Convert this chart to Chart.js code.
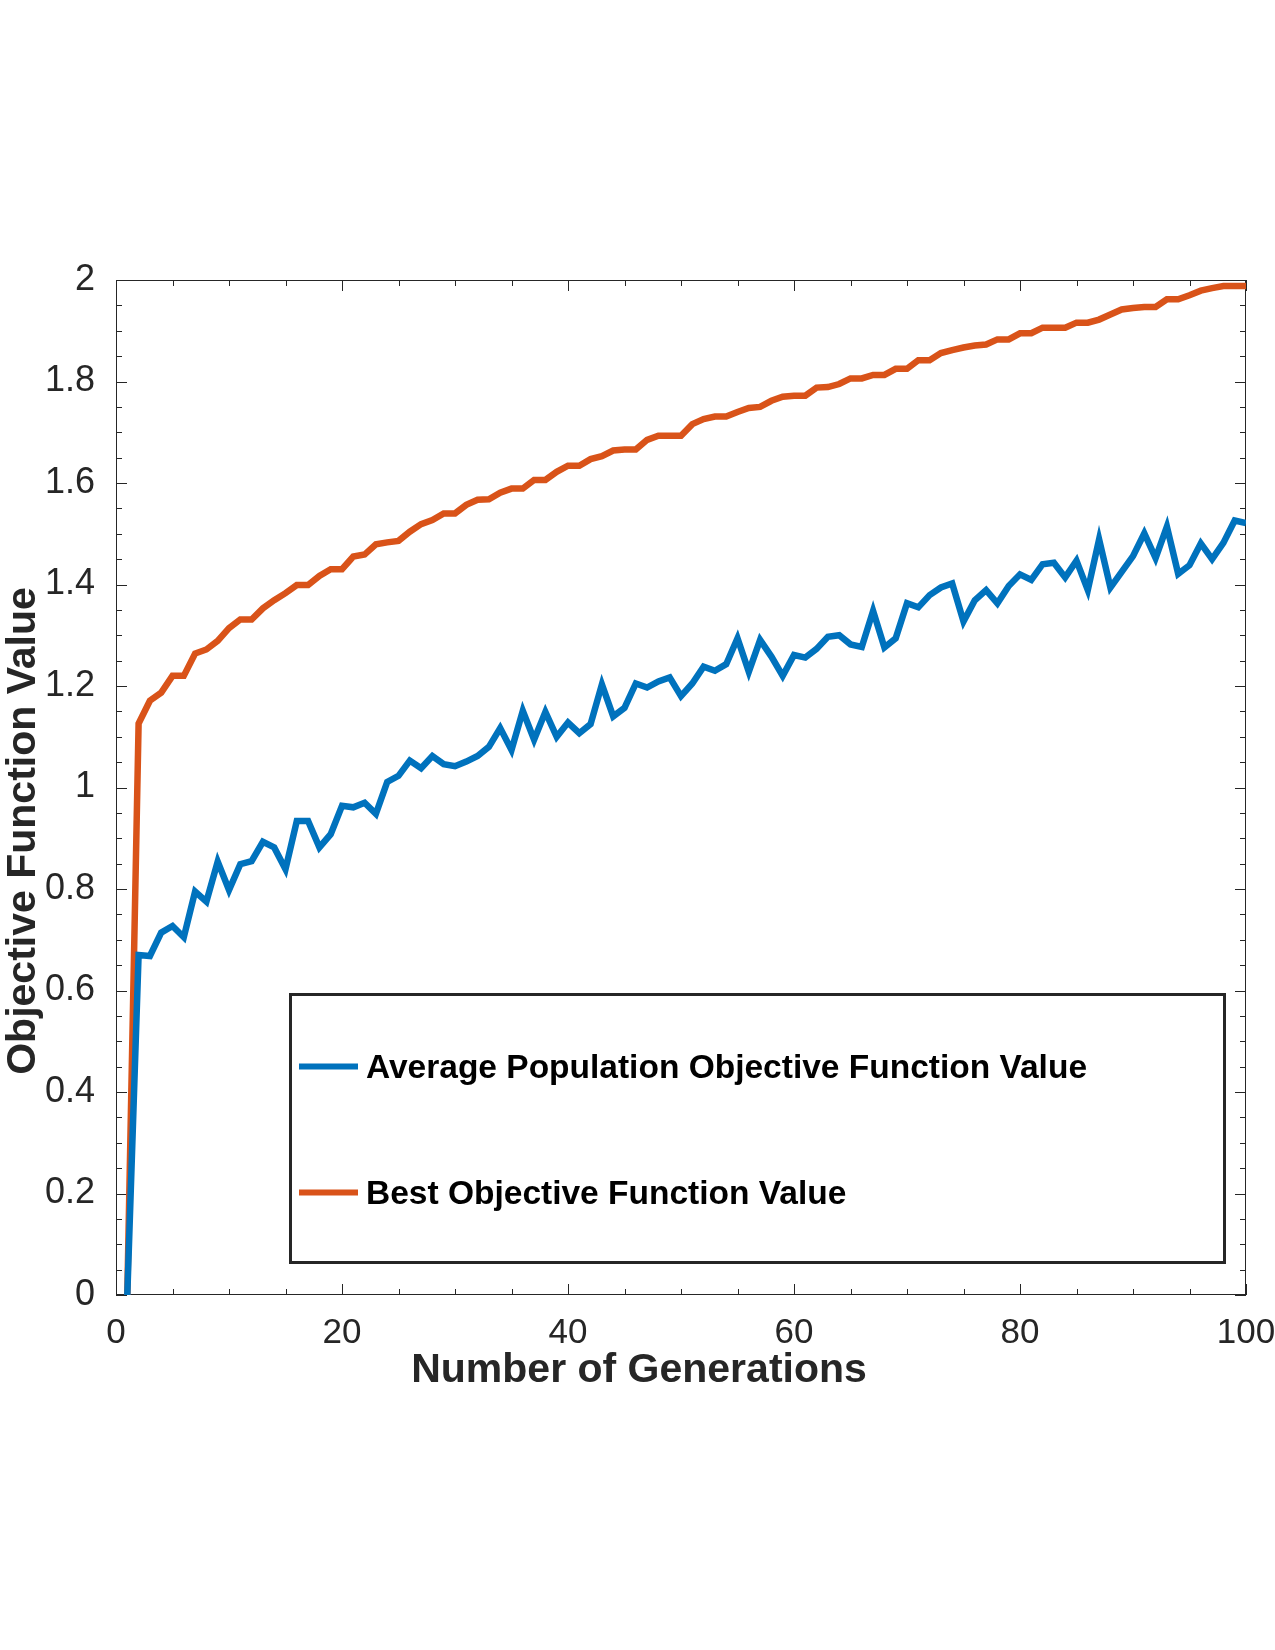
<!DOCTYPE html>
<html>
<head>
<meta charset="utf-8">
<script src="https://cdn.jsdelivr.net/npm/chart.js@4.4.1/dist/chart.umd.min.js"></script>
<style>
  html, body { margin: 0; padding: 0; background: #ffffff; }
  #wrap { position: relative; width: 1275px; height: 1650px; }
</style>
</head>
<body>
<div id="wrap"><canvas id="chart" width="1275" height="1650"></canvas></div>
<script>
// ---------------- data ----------------
const generations = [
  1, 2, 3, 4, 5, 6, 7, 8, 9, 10, 11, 12, 13, 14, 15, 16, 17, 18, 19, 20,
  21, 22, 23, 24, 25, 26, 27, 28, 29, 30, 31, 32, 33, 34, 35, 36, 37, 38, 39, 40,
  41, 42, 43, 44, 45, 46, 47, 48, 49, 50, 51, 52, 53, 54, 55, 56, 57, 58, 59, 60,
  61, 62, 63, 64, 65, 66, 67, 68, 69, 70, 71, 72, 73, 74, 75, 76, 77, 78, 79, 80,
  81, 82, 83, 84, 85, 86, 87, 88, 89, 90, 91, 92, 93, 94, 95, 96, 97, 98, 99, 100
];

const avgValues = [
  0, 0.670, 0.668, 0.714, 0.727, 0.705, 0.795, 0.775, 0.854, 0.798,
  0.849, 0.855, 0.893, 0.882, 0.839, 0.934, 0.934, 0.882, 0.908, 0.964,
  0.961, 0.970, 0.948, 1.011, 1.023, 1.053, 1.038, 1.062, 1.046, 1.042,
  1.051, 1.062, 1.080, 1.117, 1.074, 1.151, 1.094, 1.149, 1.100, 1.128,
  1.107, 1.125, 1.203, 1.140, 1.157, 1.205, 1.197, 1.209, 1.217, 1.180,
  1.205, 1.238, 1.230, 1.243, 1.294, 1.228, 1.291, 1.258, 1.220, 1.261,
  1.256, 1.273, 1.297, 1.300, 1.282, 1.277, 1.348, 1.276, 1.294, 1.363,
  1.355, 1.379, 1.394, 1.402, 1.327, 1.369, 1.389, 1.363, 1.397, 1.420,
  1.409, 1.440, 1.443, 1.414, 1.447, 1.389, 1.489, 1.394, 1.425, 1.456,
  1.501, 1.452, 1.514, 1.421, 1.438, 1.481, 1.450, 1.482, 1.526, 1.521
];

const bestValues = [
  0, 1.126, 1.171, 1.187, 1.220, 1.220, 1.264, 1.272, 1.289, 1.314,
  1.331, 1.331, 1.353, 1.369, 1.383, 1.399, 1.399, 1.417, 1.430, 1.430,
  1.455, 1.459, 1.479, 1.483, 1.486, 1.504, 1.519, 1.527, 1.540, 1.540,
  1.557, 1.567, 1.568, 1.581, 1.589, 1.589, 1.606, 1.606, 1.622, 1.634,
  1.634, 1.647, 1.653, 1.664, 1.666, 1.666, 1.685, 1.693, 1.693, 1.693,
  1.716, 1.726, 1.731, 1.731, 1.740, 1.748, 1.750, 1.762, 1.770, 1.772,
  1.772, 1.788, 1.789, 1.795, 1.806, 1.806, 1.813, 1.813, 1.825, 1.825,
  1.842, 1.842, 1.856, 1.862, 1.867, 1.871, 1.873, 1.883, 1.883, 1.895,
  1.895, 1.906, 1.906, 1.906, 1.916, 1.916, 1.922, 1.932, 1.942, 1.945,
  1.947, 1.947, 1.962, 1.962, 1.970, 1.979, 1.984, 1.988, 1.988, 1.988
];

const seriesNames = ['Average Population Objective Function Value', 'Best Objective Function Value'];
const xTickLabels = ['0', '20', '40', '60', '80', '100'];
const yTickLabels = ['0', '0.2', '0.4', '0.6', '0.8', '1', '1.2', '1.4', '1.6', '1.8', '2'];
const xAxisTitle = 'Number of Generations';
const yAxisTitle = 'Objective Function Value';

// ---------------- styles ----------------
const FONT = '"Liberation Sans", Arial, Helvetica, sans-serif';
const AXIS_COLOR = '#262626';
const BLUE = '#0072BD';
const ORANGE = '#D95319';

function toPoints(xs, ys) { return xs.map((x, i) => ({ x: x, y: ys[i] })); }

// inward ticks + full box
const framePlugin = {
  id: 'frame',
  beforeDatasetsDraw(chart) {
    const { ctx, chartArea: a, scales } = chart;
    const xs = scales.x, ys = scales.y;
    ctx.save();
    ctx.strokeStyle = AXIS_COLOR;
    ctx.lineWidth = 1;
    ctx.beginPath();
    for (let i = 0; i <= 20; i++) {
      const v = i * 5;
      const px = Math.round(xs.getPixelForValue(v)) + 0.5;
      const len = (i % 4 === 0) ? 11 : 6;
      ctx.moveTo(px, a.bottom); ctx.lineTo(px, a.bottom - len);
      ctx.moveTo(px, a.top); ctx.lineTo(px, a.top + len);
    }
    for (let i = 0; i <= 40; i++) {
      const v = i * 0.05;
      const py = Math.round(ys.getPixelForValue(v)) + 0.5;
      const len = (i % 4 === 0) ? 11 : 6;
      ctx.moveTo(a.left, py); ctx.lineTo(a.left + len, py);
      ctx.moveTo(a.right, py); ctx.lineTo(a.right - len, py);
    }
    ctx.stroke();
    ctx.strokeRect(a.left + 0.5, a.top + 0.5, a.right - a.left - 1, a.bottom - a.top - 1);
    ctx.restore();
  }
};

// boxed legend inside the axes
const legendPlugin = {
  id: 'boxLegend',
  afterDatasetsDraw(chart) {
    const { ctx } = chart;
    const box = { left: 290.5, top: 994.5, right: 1224.5, bottom: 1262.5 };
    const rows = [1066.5, 1192.5];
    const size = 33.5;
    ctx.save();
    ctx.fillStyle = '#ffffff';
    ctx.fillRect(box.left, box.top, box.right - box.left, box.bottom - box.top);
    ctx.strokeStyle = AXIS_COLOR;
    ctx.lineWidth = 3;
    ctx.strokeRect(box.left, box.top, box.right - box.left, box.bottom - box.top);
    chart.data.datasets.forEach((ds, i) => {
      const yy = rows[i];
      ctx.strokeStyle = ds.borderColor;
      ctx.lineWidth = 6;
      ctx.beginPath();
      ctx.moveTo(299, yy); ctx.lineTo(358, yy);
      ctx.stroke();
      ctx.fillStyle = '#000000';
      ctx.font = 'bold ' + size + 'px ' + FONT;
      ctx.textAlign = 'left';
      ctx.textBaseline = 'alphabetic';
      ctx.fillText(ds.label, 366, yy + 0.358 * size);
    });
    ctx.restore();
  }
};

// axis titles
const titlePlugin = {
  id: 'axisTitles',
  afterDraw(chart) {
    const { ctx } = chart;
    ctx.save();
    ctx.fillStyle = AXIS_COLOR;
    ctx.font = 'bold 41px ' + FONT;
    ctx.textAlign = 'center';
    ctx.textBaseline = 'alphabetic';
    ctx.fillText(xAxisTitle, 639, 1382);
    ctx.translate(35, 831);
    ctx.rotate(-Math.PI / 2);
    ctx.fillText(yAxisTitle, 0, 0);
    ctx.restore();
  }
};

new Chart(document.getElementById('chart'), {
  type: 'line',
  data: {
    datasets: [
      {
        label: seriesNames[0],
        data: toPoints(generations, avgValues),
        borderColor: BLUE,
        backgroundColor: BLUE,
        borderWidth: 6.5,
        pointRadius: 0,
        tension: 0,
        borderJoinStyle: 'miter',
        clip: 0
      },
      {
        label: seriesNames[1],
        data: toPoints(generations, bestValues),
        borderColor: ORANGE,
        backgroundColor: ORANGE,
        borderWidth: 6.5,
        pointRadius: 0,
        tension: 0,
        borderJoinStyle: 'miter',
        clip: 0
      }
    ]
  },
  options: {
    responsive: false,
    animation: false,
    devicePixelRatio: 1,
    layout: { padding: { left: 0, top: 280, right: 29, bottom: 295 } },
    plugins: {
      legend: { display: false },
      tooltip: { enabled: false },
      title: { display: false }
    },
    scales: {
      x: {
        type: 'linear',
        min: 0,
        max: 100,
        grid: { display: true, drawOnChartArea: false, drawTicks: false },
        border: { display: false },
        ticks: {
          stepSize: 20,
          padding: 17,
          color: AXIS_COLOR,
          font: { family: FONT, size: 35 },
          maxRotation: 0,
          callback: (v) => xTickLabels[Math.round(v / 20)]
        },
        afterFit(scale) {
          scale.height = 60;
          scale.paddingLeft = 0;
          scale.paddingRight = 0;
        }
      },
      y: {
        type: 'linear',
        min: 0,
        max: 2,
        grid: { display: true, drawOnChartArea: false, drawTicks: false },
        border: { display: false },
        ticks: {
          stepSize: 0.2,
          padding: 21,
          color: AXIS_COLOR,
          font: { family: FONT, size: 36 },
          callback: (v) => yTickLabels[Math.round(v / 0.2)]
        },
        afterFit(scale) {
          scale.width = 116;
          scale.paddingTop = 0;
          scale.paddingBottom = 0;
        }
      }
    }
  },
  plugins: [framePlugin, legendPlugin, titlePlugin]
});
</script>
</body>
</html>
